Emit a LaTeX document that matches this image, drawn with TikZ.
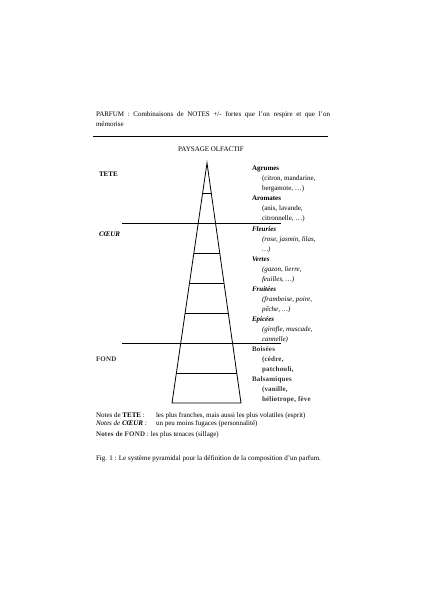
\documentclass[tikz,border=0pt]{standalone}
\usepackage{fontspec}
\setmainfont{Liberation Serif}
\usepackage{color}
\usepackage{tikz}
\usetikzlibrary{shapes.geometric,arrows,arrows.meta}
\usetikzlibrary{positioning,calc,fit,backgrounds}

% lettres "ombrees" (gras gris, un peu espace)
\newcommand{\creux}[1]{{\bfseries\addfontfeature{LetterSpace=3}\color{black!80}#1}}

\begin{document}
\begin{tikzpicture}[x=1pt,y=-1pt,
    every node/.style={inner sep=0pt,outer sep=0pt,font=\fontsize{7}{10}\selectfont},
    texte/.style={anchor=base west,align=left},
    trait/.style={draw=black,line width=0.8pt},
    etage/.style={draw=black,line width=0.9pt}]
        \useasboundingbox (0,0) rectangle (423,598);
        \def\retrait{\hspace*{10pt}}

        % en-tete
        \node[texte,text width=234pt,align=justify] (entete) at (96,116)
          {PARFUM : Combinaisons de NOTES +/- fortes que l’on respire et que l’on\linebreak mémorise};
        \coordinate (regleG) at (93,136);
        \coordinate (regleD) at (328,136);
        \draw[etage] (regleG) -- (regleD);
        \node[anchor=base] (titre) at (211,151) {PAYSAGE OLFACTIF};

        % pyramide
        \coordinate (sommet) at (207,163);
        \coordinate (baseG) at (172,403);
        \coordinate (baseD) at (241,403);
        \draw[trait] (baseG) -- (sommet) -- (baseD) -- cycle;
        \foreach \k in {1,3,4,5,7}
          \draw[trait] ($(sommet)!\k/8!(baseG)$) -- ($(sommet)!\k/8!(baseD)$);
        \coordinate (coeurG) at (122,223);
        \coordinate (coeurD) at (281,223);
        \coordinate (fondG) at (122,343);
        \coordinate (fondD) at (281,343);
        \draw[etage] (coeurG) -- (coeurD);
        \draw[etage] (fondG) -- (fondD);

        % niveaux
        \node[texte] (tete) at (99,176) {\textbf{TETE}};
        \node[texte] (coeur) at (99,236) {\textbf{\textit{CŒUR}}};
        \node[texte] (fond) at (96,361) {\creux{FOND}};

        % familles (ancre sur la derniere ligne)
        \node[texte] (agrumes) at (252,190)
          {\textbf{Agrumes}\\\retrait(citron, mandarine,\\\retrait bergamote, \dots)};
        \node[texte] (aromates) at (252,220)
          {\textbf{Aromates}\\\retrait(anis, lavande,\\\retrait citronnelle, \dots)};
        \node[texte] (fleuries) at (252,251)
          {\textbf{\textit{Fleuries}}\\\retrait\textit{(rose, jasmin, lilas,}\\\retrait\textit{\dots)}};
        \node[texte] (vertes) at (252,281)
          {\textbf{\textit{Vertes}}\\\retrait\textit{(gazon, lierre,}\\\retrait\textit{feuilles, \dots)}};
        \node[texte] (fruitees) at (252,311)
          {\textbf{\textit{Fruitées}}\\\retrait\textit{(framboise, poire,}\\\retrait\textit{pêche, \dots)}};
        \node[texte] (epicees) at (252,341)
          {\textbf{\textit{Epicées}}\\\retrait\textit{(girofle, muscade,}\\\retrait\textit{cannelle)}};
        \node[texte] (boisees) at (252,371)
          {\creux{Boisées}\\\retrait\creux{(cèdre,}\\\retrait\creux{patchouli,}};
        \node[texte] (balsamiques) at (252,401)
          {\creux{Balsamiques}\\\retrait\creux{(vanille,}\\\retrait\creux{héliotrope, fève}};

        % notes
        \node[texte] (noteTete) at (96,417) {Notes de \textbf{TETE} :};
        \node[texte] (descTete) at (156,417) {les plus franches, mais aussi les plus volatiles (esprit)};
        \node[texte] (noteCoeur) at (96,425) {\textit{Notes de \textbf{CŒUR} :}};
        \node[texte] (descCoeur) at (156,425) {un peu moins fugaces (personnalité)};
        \node[texte] (noteFond) at (96,436) {\creux{Notes de FOND} : les plus tenaces (sillage)};
        \node[texte] (legende) at (96,460)
          {Fig. 1 : Le système pyramidal pour la définition de la composition d’un parfum.};
      \end{tikzpicture}
\end{document}
